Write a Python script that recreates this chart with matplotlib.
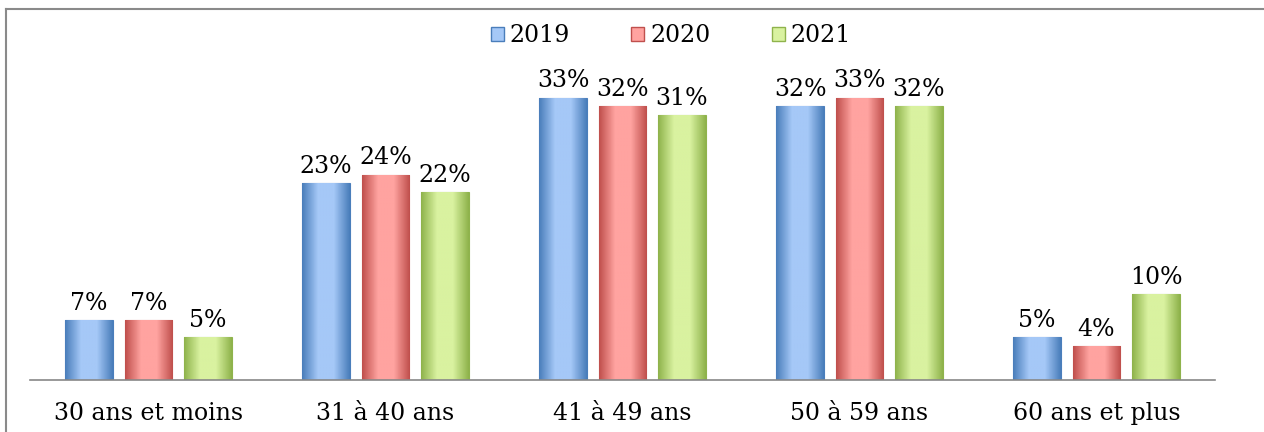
import matplotlib.pyplot as plt
import numpy as np
from matplotlib.patches import Patch
from matplotlib.lines import Line2D
from matplotlib.colors import LinearSegmentedColormap

categories = ["30 ans et moins", "31 à 40 ans", "41 à 49 ans", "50 à 59 ans", "60 ans et plus"]
years = ["2019", "2020", "2021"]
v2019 = [7, 23, 33, 32, 5]
v2020 = [7, 24, 32, 33, 4]
v2021 = [5, 22, 31, 32, 10]

# (dark edge, light centre) per series
colors = [("#4a7ebb", "#a5c8f7"), ("#c0504d", "#ffa3a0"), ("#8fb34c", "#d9f2a0")]

plt.rcParams['font.family'] = ['DejaVu Serif']

fig = plt.figure(figsize=(12.64, 4.32), dpi=100)
ax = fig.add_axes([30 / 1264, 52 / 432, (1215 - 30) / 1264, 350 / 432])

x = np.arange(len(categories))
width = 0.2025
offset = 0.251

for i, (vals, (dark, light)) in enumerate(zip([v2019, v2020, v2021], colors)):
    bars = ax.bar(x + (i - 1) * offset, vals, width, color=light, edgecolor=dark, linewidth=0.8, zorder=2)
    cmap = LinearSegmentedColormap.from_list("g", [dark, light, light, dark])
    grad = np.linspace(0, 1, 64).reshape(1, -1)
    for b, v in zip(bars, vals):
        x0, y0 = b.get_x(), b.get_y()
        im = ax.imshow(grad, cmap=cmap, aspect="auto", zorder=2.5,
                       extent=[x0, x0 + b.get_width(), y0, y0 + b.get_height()])
        im.set_clip_path(b)
        ax.text(b.get_x() + b.get_width() / 2, v + 0.6, f"{v}%", ha="center", va="bottom", fontsize=17)

ax.set_xlim(-0.5, len(categories) - 0.5)
ax.set_ylim(0, 40.9)
ax.set_yticks([])
ax.set_xticks(x)
ax.set_xticklabels(categories, fontsize=17)
ax.tick_params(axis="x", length=0, pad=16)
for s in ["top", "right", "left"]:
    ax.spines[s].set_visible(False)
ax.spines["bottom"].set_color("#888888")
ax.spines["bottom"].set_linewidth(1.2)

handles = [Patch(facecolor=light, edgecolor=dark) for dark, light in colors]
fig.legend(handles, years, loc="center", bbox_to_anchor=(671 / 1264, 1 - 36 / 432), ncol=3,
           frameon=False, fontsize=17, handlelength=0.55, handleheight=0.55,
           handletextpad=0.25, columnspacing=2.6)

# outer frame (top and left edges visible)
fig.add_artist(Line2D([6 / 1264, 1], [1 - 9 / 432, 1 - 9 / 432], color="#8a8a8a", lw=1.5, transform=fig.transFigure))
fig.add_artist(Line2D([6 / 1264, 6 / 1264], [0, 1 - 9 / 432], color="#8a8a8a", lw=1.5, transform=fig.transFigure))

fig.savefig("out.png", dpi=100)
